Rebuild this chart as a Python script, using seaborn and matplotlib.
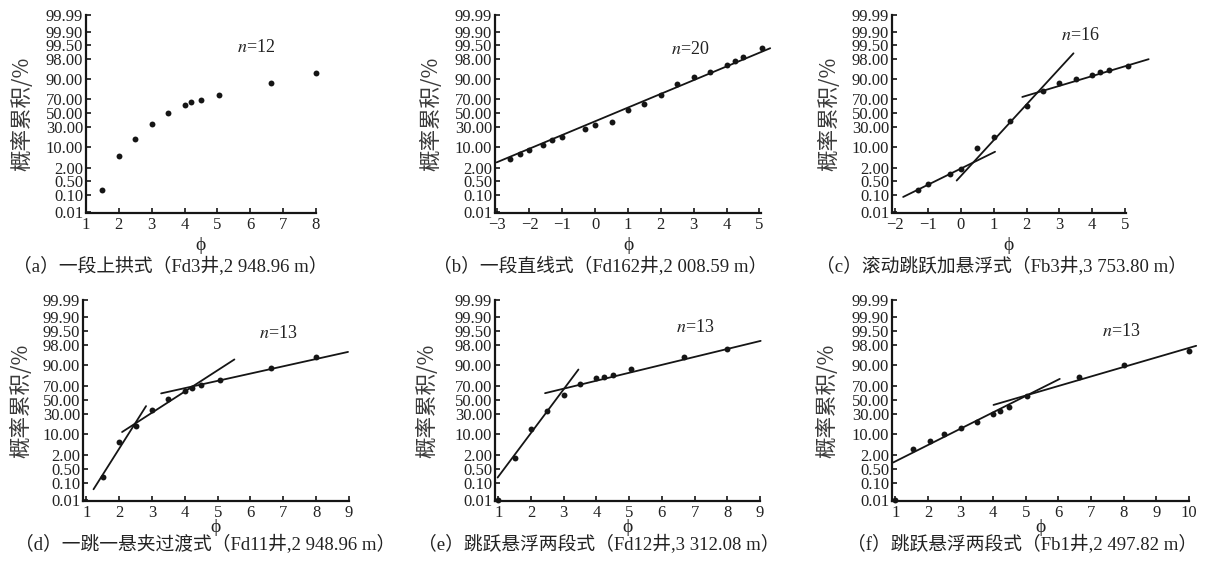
import numpy as np
import pandas as pd
import matplotlib
matplotlib.use("Agg")
import matplotlib.pyplot as plt
import seaborn as sns
from statistics import NormalDist

# ---------------- data (phi, cumulative probability %) ----------------
phi_a = [1.5, 2.0, 2.5, 3.0, 3.5, 4.0, 4.2, 4.5, 5.06, 6.64, 8.0]
cum_a = [0.19, 5.5, 16.8, 34.2, 50.0, 62.6, 66.2, 69.7, 75.9, 87.6, 93.8]

phi_b = [-2.6, -2.3, -2.0, -1.6, -1.3, -1.0, -0.3, 0.0, 0.5, 1.0, 1.5, 2.0, 2.5, 3.0,
         3.5, 4.0, 4.25, 4.5, 5.08]
cum_b = [4.3, 6.3, 8.0, 11.6, 15.9, 18.8, 28.2, 33.0, 37.1, 55.7, 63.8, 75.1, 86.4,
         91.5, 94.3, 96.5, 97.6, 98.4, 99.3]
fit_b_phi = [[-3.0, 5.33]]
fit_b_cum = [[3.18, 99.31]]

phi_c = [-1.32, -1.0, -0.33, 0.0, 0.5, 1.0, 1.5, 2.0, 2.5, 3.0, 3.5, 4.0, 4.25, 4.5, 5.08]
cum_c = [0.185, 0.38, 1.05, 1.75, 9.6, 18.9, 38.3, 61.2, 80.1, 87.1, 90.6, 92.8, 94.1,
         94.8, 96.4]
fit_c_phi = [[-1.76, 1.04], [-0.13, 3.43], [1.87, 5.72]]
fit_c_cum = [[0.078, 7.3], [0.55, 98.84], [73.2, 97.97]]

phi_d = [1.5, 2.0, 2.5, 3.0, 3.5, 4.0, 4.22, 4.5, 5.06, 6.63, 8.0]
cum_d = [0.21, 5.9, 16.5, 34.8, 50.7, 63.3, 66.6, 70.5, 77.0, 88.4, 94.3]
fit_d_phi = [[1.22, 2.82], [2.09, 5.51], [3.28, 8.97]]
fit_d_cum = [[0.044, 40.9], [11.6, 93.4], [59.6, 96.3]]

phi_e = [1.0, 1.5, 2.0, 2.5, 3.0, 3.5, 4.0, 4.22, 4.5, 5.06, 6.67, 8.0]
cum_e = [0.01, 1.59, 13.7, 34.4, 57.5, 71.8, 78.9, 80.7, 82.7, 87.3, 94.3, 97.0]
fit_e_phi = [[0.98, 3.45], [2.43, 9.02]]
fit_e_cum = [[0.193, 87.1], [59.9, 98.6]]

phi_f = [1.0, 1.55, 2.05, 2.5, 3.0, 3.5, 4.0, 4.2, 4.5, 5.05, 6.64, 8.0, 10.0]
cum_f = [0.01, 3.4, 6.5, 10.2, 15.1, 20.6, 29.6, 34.1, 40.2, 55.9, 80.1, 90.0, 96.7]
fit_f_phi = [[0.94, 6.04], [4.01, 10.22]]
fit_f_cum = [[1.0, 78.3], [42.6, 97.8]]

n_values = ["12", "20", "16", "13", "13", "13"]
captions = ["（a）一段上拱式（Fd3井,2 948.96 m）",
            "（b）一段直线式（Fd162井,2 008.59 m）",
            "（c）滚动跳跃加悬浮式（Fb3井,3 753.80 m）",
            "（d）一跳一悬夹过渡式（Fd11井,2 948.96 m）",
            "（e）跳跃悬浮两段式（Fd12井,3 312.08 m）",
            "（f）跳跃悬浮两段式（Fb1井,2 497.82 m）"]
y_ticks = [0.01, 0.10, 0.50, 2.00, 10.00, 30.00, 50.00, 70.00, 90.00, 98.00, 99.50, 99.90, 99.99]
y_ticklabels = ["0.01", "0.10", "0.50", "2.00", "10.00", "30.00", "50.00", "70.00",
                "90.00", "98.00", "99.50", "99.90", "99.99"]
x_ticks = [list(range(1, 9)), list(range(-3, 6)), list(range(-2, 6)),
           list(range(1, 10)), list(range(1, 10)), list(range(1, 11))]
y_label = "概率累积/%"
x_label = "ϕ"

# ---------------- probability (probit) scale ----------------
_nd = NormalDist()
_ppf_v = np.vectorize(lambda v: _nd.inv_cdf(v) if np.isfinite(v) else np.nan, otypes=[float])
_cdf_v = np.vectorize(lambda v: 100.0 * _nd.cdf(v) if np.isfinite(v) else np.nan, otypes=[float])


def prob_forward(p):
    p = np.asarray(p, dtype=float)
    q = np.clip(p / 100.0, 1e-12, 1 - 1e-12)
    return _ppf_v(q)


def prob_inverse(z):
    z = np.asarray(z, dtype=float)
    return _cdf_v(np.clip(z, -40, 40))


# ---------------- style ----------------
sns.set_style("ticks")
plt.rcParams["font.family"] = ["Liberation Serif", "Noto Sans CJK SC"]
plt.rcParams["axes.unicode_minus"] = True
plt.rcParams["mathtext.fontset"] = "stix"

W, H = 1205, 564
fig = plt.figure(figsize=(W / 100, H / 100), dpi=100)
fig.patch.set_facecolor("white")

# panel boxes in pixels: left, top, right, bottom
boxes = [(86, 15, 316, 212.5), (495, 15, 761, 212.5), (892, 15, 1126, 212.5),
         (83, 300, 349, 500.7), (495, 300, 760, 500.7), (892, 300, 1189, 500.7)]
xlims = [(1.0, 8.0), (-3.05, 5.05), (-2.1, 5.03), (0.9, 9.0), (0.9, 9.0), (0.9, 10.0)]
ylabel_x = [23, 432, 830, 22, 428, 828]
n_pos = [(256, 48), (690, 49), (1080, 36), (278, 334), (695, 328), (1121, 332)]
cap_pos = [(170, 267, "center"), (600, 267, "center"), (1001, 267, "center"),
           (395, 545, "right"), (599, 545, "center"), (1022, 545, "center")]

points = [(phi_a, cum_a), (phi_b, cum_b), (phi_c, cum_c),
          (phi_d, cum_d), (phi_e, cum_e), (phi_f, cum_f)]
fits = [([], []), (fit_b_phi, fit_b_cum), (fit_c_phi, fit_c_cum),
        (fit_d_phi, fit_d_cum), (fit_e_phi, fit_e_cum), (fit_f_phi, fit_f_cum)]

ink = "#151515"
for i in range(6):
    l, t, r, b = boxes[i]
    ax = fig.add_axes([l / W, 1 - b / H, (r - l) / W, (b - t) / H])
    ax.set_facecolor("white")

    fx, fy = fits[i]
    for seg_x, seg_y in zip(fx, fy):
        seg = pd.DataFrame({"phi": seg_x, "cum": seg_y})
        sns.lineplot(data=seg, x="phi", y="cum", ax=ax, color=ink, linewidth=1.3,
                     estimator=None, sort=False, clip_on=False, legend=False)

    px, py = points[i]
    df = pd.DataFrame({"phi": px, "cum": py})
    sns.scatterplot(data=df, x="phi", y="cum", ax=ax, color=ink, s=18, marker="o",
                    linewidth=0, legend=False, clip_on=False, zorder=5)

    ax.set_yscale("function", functions=(prob_forward, prob_inverse))
    ax.set_ylim(0.0088, 99.99)
    ax.set_yticks(y_ticks, labels=y_ticklabels)
    ax.yaxis.set_minor_locator(matplotlib.ticker.NullLocator())
    ax.set_xticks(x_ticks[i])
    ax.set_xlim(*xlims[i])
    ax.xaxis.set_minor_locator(matplotlib.ticker.NullLocator())

    sns.despine(ax=ax)
    for s in ("left", "bottom"):
        ax.spines[s].set_linewidth(1.6)
        ax.spines[s].set_color(ink)
    ax.tick_params(axis="both", direction="in", length=3.5, width=1.2, color=ink,
                   labelsize=12, labelcolor="#222222", pad=2)
    ax.tick_params(axis="x", pad=3)

    ax.set_xlabel(x_label, fontsize=14, family=["Liberation Serif", "DejaVu Serif"],
                  color="#222222")
    ylab_px = 245 if b < 300 else 528
    ax.xaxis.set_label_coords(0.5, (b - ylab_px) / (b - t))
    ax.xaxis.label.set_va("center")

    ax.set_ylabel(y_label, fontsize=15.5, color="#3a3a3a",
                  family=["Noto Sans CJK SC", "Liberation Serif"])
    ax.yaxis.set_label_coords((ylabel_x[i] + 10 - l) / (r - l), 0.5)

    nx, ny = n_pos[i]
    ax.text((nx - l) / (r - l), (b - ny) / (b - t),
            r"$\mathit{n}$" + "=" + n_values[i],
            transform=ax.transAxes, ha="center", va="center", fontsize=13,
            color="#222222")

for (cx, cy, ha), cap in zip(cap_pos, captions):
    fig.text(cx / W, 1 - cy / H, cap, ha=ha, va="center", fontsize=13.5,
             color="#222222", family=["Liberation Serif", "Noto Sans CJK SC"])

fig.savefig("out.png", dpi=100, facecolor="white")
